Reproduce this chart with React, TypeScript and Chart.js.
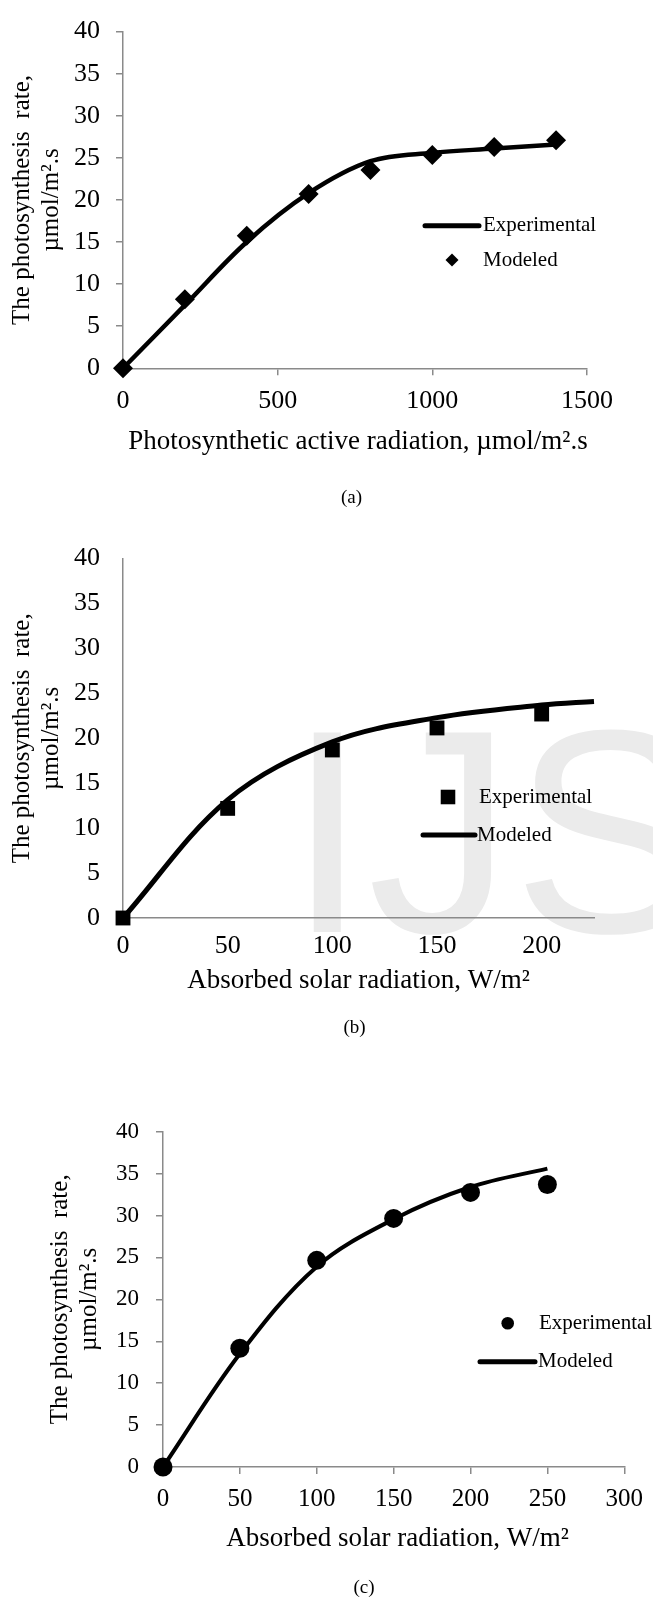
import React, { useEffect, useRef } from "react";
import { Chart, registerables } from "chart.js";

Chart.register(...registerables);

const SERIF = "'Liberation Serif', 'Times New Roman', Times, serif";
const SANS = "'Liberation Sans', Arial, sans-serif";
const AXIS = "#8a8a8a";
const INK = "#000000";

// ---------- panel (a)
const parX = [0, 200, 400, 600, 800, 1000, 1200, 1400];
const aExperimentalLine = [0, 7.5, 15.0, 20.8, 24.6, 25.6, 26.1, 26.6];
const aModeledPoints = [0, 8.2, 15.75, 20.7, 23.55, 25.35, 26.3, 27.1];
const aXTicks = [0, 500, 1000, 1500];

// ---------- panel (b)
const bPointX = [0, 50, 100, 150, 200];
const bExperimentalPoints = [0, 12.2, 18.7, 21.15, 22.7];
const bLineX = [0, 50, 100, 150, 200, 225];
const bModeledLine = [0, 13.15, 19.6, 22.3, 23.7, 24.1];
const bXTicks = [0, 50, 100, 150, 200];

// ---------- panel (c)
const cX = [0, 50, 100, 150, 200, 250];
const cExperimentalPoints = [0, 14.16, 24.65, 29.66, 32.76, 33.7];
const cModeledLine = [0, 13.5, 23.9, 29.56, 33.4, 35.6];
const cXTicks = [0, 50, 100, 150, 200, 250, 300];

const yTicks = [0, 5, 10, 15, 20, 25, 30, 35, 40];

const Y_TITLE_1 = "The photosynthesis  rate,";
const Y_TITLE_2 = "\u00B5mol/m\u00B2.s";

const zip = (xs: number[], ys: number[]) => xs.map((x, i) => ({ x, y: ys[i] }));

type LegendItem = {
  kind: "line" | "point";
  label: string;
  y: number;
  textX: number;
  x1?: number;
  x2?: number;
  px?: number;
  style?: string;
  r?: number;
};

type Spec = {
  W: number;
  H: number;
  area: { left: number; right: number; top: number; bottom: number };
  xMax: number;
  xTicks: number[];
  tickLen: number;
  xTickFont: number;
  xTickPad: number;
  yTickFont: number;
  yTickPad: number;
  datasets: any[];
  yTitleX: [number, number];
  yTitleFont: number;
  xTitle: string;
  xTitleX: number;
  xTitleY: number;
  xTitleFont: number;
  caption: string;
  capX: number;
  capY: number;
  capFont: number;
  legendFont: number;
  legend: LegendItem[];
  watermark?: { text: string; x: number; y: number; size: number; color: string };
};

function marker(ctx: CanvasRenderingContext2D, style: string, x: number, y: number, r: number) {
  ctx.beginPath();
  if (style === "rectRot") {
    ctx.moveTo(x - r, y);
    ctx.lineTo(x, y - r);
    ctx.lineTo(x + r, y);
    ctx.lineTo(x, y + r);
    ctx.closePath();
  } else if (style === "rect") {
    const s = r * Math.SQRT1_2;
    ctx.rect(x - s, y - s, 2 * s, 2 * s);
  } else {
    ctx.arc(x, y, r, 0, Math.PI * 2);
  }
  ctx.fillStyle = INK;
  ctx.fill();
}

function makeDecor(spec: Spec) {
  return {
    id: "decor",
    beforeDraw(chart: any) {
      const wm = spec.watermark;
      if (!wm) return;
      const ctx = chart.ctx as CanvasRenderingContext2D;
      ctx.save();
      ctx.font = `${wm.size}px ${SANS}`;
      ctx.fillStyle = wm.color;
      ctx.textAlign = "left";
      ctx.textBaseline = "alphabetic";
      ctx.fillText(wm.text, wm.x, wm.y);
      ctx.restore();
    },
    afterDraw(chart: any) {
      const ctx = chart.ctx as CanvasRenderingContext2D;
      const ca = chart.chartArea;
      ctx.save();
      ctx.fillStyle = INK;
      const cy = (ca.top + ca.bottom) / 2;
      ctx.font = `${spec.yTitleFont}px ${SERIF}`;
      ctx.textAlign = "center";
      ctx.textBaseline = "middle";
      [Y_TITLE_1, Y_TITLE_2].forEach((t, i) => {
        ctx.save();
        ctx.translate(spec.yTitleX[i], cy);
        ctx.rotate(-Math.PI / 2);
        ctx.fillText(t, 0, 0);
        ctx.restore();
      });
      ctx.font = `${spec.xTitleFont}px ${SERIF}`;
      ctx.textAlign = "center";
      ctx.textBaseline = "alphabetic";
      ctx.fillText(spec.xTitle, spec.xTitleX, spec.xTitleY);
      ctx.font = `${spec.capFont}px ${SERIF}`;
      ctx.textBaseline = "middle";
      ctx.fillText(spec.caption, spec.capX, spec.capY);
      for (const it of spec.legend) {
        if (it.kind === "line") {
          ctx.beginPath();
          ctx.lineWidth = 5;
          ctx.lineCap = "round";
          ctx.strokeStyle = INK;
          ctx.moveTo(it.x1 as number, it.y);
          ctx.lineTo(it.x2 as number, it.y);
          ctx.stroke();
        } else {
          marker(ctx, it.style as string, it.px as number, it.y, it.r as number);
        }
        ctx.fillStyle = INK;
        ctx.font = `${spec.legendFont}px ${SERIF}`;
        ctx.textAlign = "left";
        ctx.textBaseline = "middle";
        ctx.fillText(it.label, it.textX, it.y);
      }
      ctx.restore();
    },
  };
}

function buildConfig(spec: Spec): any {
  const { W, H, area } = spec;
  const hasTicks = spec.tickLen > 0;
  const grid = hasTicks
    ? { display: true, drawOnChartArea: false, drawTicks: true, tickLength: spec.tickLen, color: AXIS, lineWidth: 1.5 }
    : { display: true, drawOnChartArea: false, drawTicks: false };
  const border = { display: true, color: AXIS, width: 1.5 };
  return {
    type: "line",
    data: { datasets: spec.datasets },
    options: {
      animation: false,
      responsive: false,
      maintainAspectRatio: false,
      events: [],
      layout: { padding: { left: 0, top: area.top, right: W - area.right, bottom: 0 } },
      plugins: { legend: { display: false }, tooltip: { enabled: false }, title: { display: false } },
      scales: {
        x: {
          type: "linear",
          position: "bottom",
          min: 0,
          max: spec.xMax,
          afterBuildTicks: (s: any) => {
            s.ticks = spec.xTicks.map((v) => ({ value: v }));
          },
          afterFit: (s: any) => {
            s.height = H - area.bottom;
          },
          grid,
          border,
          ticks: {
            autoSkip: false,
            maxRotation: 0,
            minRotation: 0,
            padding: spec.xTickPad,
            color: INK,
            font: { family: SERIF, size: spec.xTickFont },
            callback: (v: any) => String(v),
          },
        },
        y: {
          type: "linear",
          position: "left",
          min: 0,
          max: 40,
          afterBuildTicks: (s: any) => {
            s.ticks = yTicks.map((v) => ({ value: v }));
          },
          afterFit: (s: any) => {
            s.width = area.left;
          },
          grid,
          border,
          ticks: {
            autoSkip: false,
            padding: spec.yTickPad,
            color: INK,
            font: { family: SERIF, size: spec.yTickFont },
            callback: (v: any) => String(v),
          },
        },
      },
    },
    plugins: [makeDecor(spec)],
  };
}

const lineDs = (label: string, xs: number[], ys: number[], width: number) => ({
  label,
  data: zip(xs, ys),
  borderColor: INK,
  backgroundColor: INK,
  borderWidth: width,
  pointRadius: 0,
  tension: 0.35,
  fill: false,
  clip: false,
  order: 1,
  borderCapStyle: "butt",
});

const pointDs = (label: string, xs: number[], ys: number[], style: string, r: number) => ({
  label,
  data: zip(xs, ys),
  showLine: false,
  pointStyle: style,
  pointRadius: r,
  pointBackgroundColor: INK,
  pointBorderColor: INK,
  pointBorderWidth: 0,
  clip: false,
  order: 0,
});

const specA: Spec = {
  W: 653,
  H: 520,
  area: { left: 123, right: 587, top: 20.5, bottom: 368.3 },
  xMax: 1500,
  xTicks: aXTicks,
  tickLen: 7,
  xTickFont: 26,
  xTickPad: 10,
  yTickFont: 26,
  yTickPad: 16,
  datasets: [
    lineDs("Experimental", parX, aExperimentalLine, 4.5),
    pointDs("Modeled", parX, aModeledPoints, "rectRot", 10),
  ],
  yTitleX: [22, 51],
  yTitleFont: 25,
  xTitle: "Photosynthetic active radiation, \u00B5mol/m\u00B2.s",
  xTitleX: 358,
  xTitleY: 449,
  xTitleFont: 27,
  caption: "(a)",
  capX: 351.5,
  capY: 498,
  capFont: 19,
  legendFont: 21,
  legend: [
    { kind: "line", label: "Experimental", x1: 425, x2: 479, y: 225.7, textX: 483 },
    { kind: "point", label: "Modeled", px: 452, y: 260, textX: 483, style: "rectRot", r: 6.5 },
  ],
};

const specB: Spec = {
  W: 653,
  H: 520,
  area: { left: 123, right: 594, top: 25, bottom: 398 },
  xMax: 225,
  xTicks: bXTicks,
  tickLen: 0,
  xTickFont: 26,
  xTickPad: 13,
  yTickFont: 26,
  yTickPad: 23,
  datasets: [
    lineDs("Modeled", bLineX, bModeledLine, 5),
    pointDs("Experimental", bPointX, bExperimentalPoints, "rect", 10.5),
  ],
  yTitleX: [22, 51],
  yTitleFont: 25,
  xTitle: "Absorbed solar radiation, W/m\u00B2",
  xTitleX: 358.5,
  xTitleY: 468,
  xTitleFont: 27,
  caption: "(b)",
  capX: 354.6,
  capY: 508,
  capFont: 19,
  legendFont: 21,
  legend: [
    { kind: "point", label: "Experimental", px: 448, y: 277, textX: 479, style: "rect", r: 10.3 },
    { kind: "line", label: "Modeled", x1: 423, x2: 475, y: 315, textX: 477 },
  ],
  watermark: { text: "IJS", x: 287, y: 412, size: 290, color: "#ebebeb" },
};

const specC: Spec = {
  W: 653,
  H: 560,
  area: { left: 163, right: 631, top: 91.7, bottom: 427 },
  xMax: 300,
  xTicks: cXTicks,
  tickLen: 7,
  xTickFont: 25,
  xTickPad: 10,
  yTickFont: 23,
  yTickPad: 17,
  datasets: [
    lineDs("Modeled", cX, cModeledLine, 4),
    pointDs("Experimental", cX, cExperimentalPoints, "circle", 9.5),
  ],
  yTitleX: [60, 89],
  yTitleFont: 25,
  xTitle: "Absorbed solar radiation, W/m\u00B2",
  xTitleX: 397.5,
  xTitleY: 506,
  xTitleFont: 27,
  caption: "(c)",
  capX: 364,
  capY: 548,
  capFont: 19,
  legendFont: 21,
  legend: [
    { kind: "point", label: "Experimental", px: 507.7, y: 283.3, textX: 539, style: "circle", r: 6.3 },
    { kind: "line", label: "Modeled", x1: 480, x2: 535, y: 321.7, textX: 538 },
  ],
};

function Panel({ spec, top }: { spec: Spec; top: number }) {
  const ref = useRef<HTMLCanvasElement>(null);
  useEffect(() => {
    if (!ref.current) return;
    const chart = new Chart(ref.current, buildConfig(spec));
    return () => chart.destroy();
  }, [spec]);
  return (
    <canvas
      ref={ref}
      width={spec.W}
      height={spec.H}
      style={{ position: "absolute", left: 0, top, width: spec.W, height: spec.H }}
    />
  );
}

export default function App() {
  return (
    <div style={{ position: "absolute", left: 0, top: 0, width: 653, height: 1600, background: "#ffffff" }}>
      <Panel spec={specA} top={0} />
      <Panel spec={specB} top={520} />
      <Panel spec={specC} top={1040} />
    </div>
  );
}
